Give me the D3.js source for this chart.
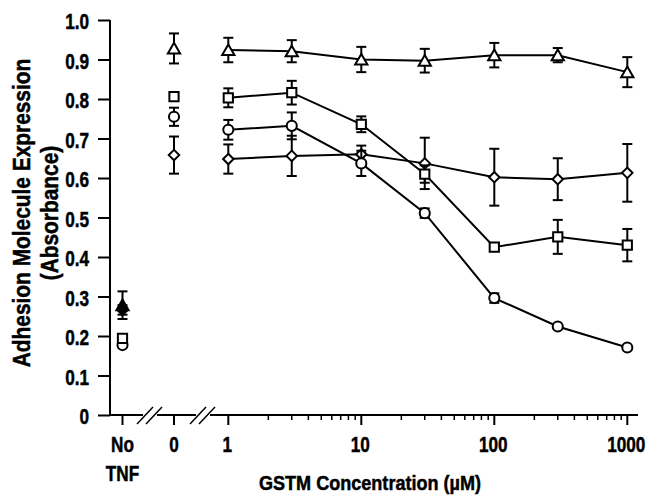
<!DOCTYPE html>
<html>
<head>
<meta charset="utf-8">
<script src="https://cdn.jsdelivr.net/npm/d3@7"></script>
<style>
body { margin: 0; background: #fff; }
text { font-family: "Liberation Sans", Arial, Helvetica, sans-serif; font-weight: bold; stroke: #000; stroke-width: 0.5px; }
</style>
</head>
<body>
<svg id="chart" width="650" height="498"></svg>
<script>
// concentrations (uM) on the log part of the axis
var concs = [1, 3, 10, 30, 100, 300, 1000];
var controls = ["No TNF", "0"];
var yTicks = [0, 0.1, 0.2, 0.3, 0.4, 0.5, 0.6, 0.7, 0.8, 0.9, 1.0];
var xMajor = [1, 10, 100, 1000];

// each series: control values [No TNF, 0], then values at concs, with errors
var triCtrl = [0.278, 0.928], triCtrlErr = [0.035, 0.038];
var triVals = [0.924, 0.921, 0.900, 0.897, 0.911, 0.911, 0.868];
var triErr  = [0.031, 0.028, 0.032, 0.030, 0.031, 0.018, 0.038];

var sqCtrl = [0.194, 0.806], sqCtrlErr = [0.008, 0];
var sqVals = [0.803, 0.816, 0.736, 0.610, 0.425, 0.451, 0.430];
var sqErr  = [0.024, 0.030, 0.020, 0.022, 0.008, 0.043, 0.041];

var cirCtrl = [0.177, 0.755], cirCtrlErr = [0.006, 0.023];
var cirVals = [0.722, 0.732, 0.637, 0.511, 0.296, 0.224, 0.171];
var cirErr  = [0.025, 0.034, 0.032, 0.012, 0.012, 0, 0];

var diaCtrl = [0.266, 0.658], diaCtrlErr = [0.012, 0.047];
var diaVals = [0.648, 0.656, 0.660, 0.637, 0.602, 0.597, 0.613];
var diaErr  = [0.037, 0.051, 0.022, 0.065, 0.072, 0.053, 0.073];

var series = [
	{shape: "diamond", ctrl: diaCtrl, ctrlErr: diaCtrlErr, vals: diaVals, err: diaErr},
	{shape: "circle", ctrl: cirCtrl, ctrlErr: cirCtrlErr, vals: cirVals, err: cirErr},
	{shape: "square", ctrl: sqCtrl, ctrlErr: sqCtrlErr, vals: sqVals, err: sqErr},
	{shape: "triangle", ctrl: triCtrl, ctrlErr: triCtrlErr, vals: triVals, err: triErr}
];

var svg = d3.select("#chart");
var x0 = 110, yBase = 415;
var squeeze = 0.78; // the original uses a condensed face

var y = d3.scaleLinear().domain([0, 1]).range([yBase, 20]);
var x = d3.scaleLog().domain([1, 1000]).range([228.3, 627.3]);
var xc = d3.scalePoint().domain(controls).range([122.5, 174]);

var symbols = {
	diamond: d3.symbol().type(d3.symbolDiamond2).size(70),
	circle: d3.symbol().type(d3.symbolCircle).size(80),
	square: d3.symbol().type(d3.symbolSquare).size(85),
	triangle: d3.symbol().type(d3.symbolTriangle).size(65)
};

function condensed(sel, tx, ty, sx) {
	sel.attr("x", 0).attr("y", 0)
		.attr("transform", "translate(" + tx + "," + ty + ") scale(" + sx + ",1)");
}

// y axis
var yAxis = d3.axisLeft(y)
	.tickValues(yTicks)
	.tickSize(12)
	.tickFormat(function(d) { return d == 0 ? "0" : d3.format(".1f")(d); });
var gy = svg.append("g").attr("transform", "translate(" + x0 + ",0)").call(yAxis);
gy.select(".domain").attr("d", "M0," + y(1) + "V" + yBase).attr("stroke-width", 2);
gy.selectAll(".tick line").attr("stroke-width", 2);
gy.selectAll(".tick text")
	.attr("font-size", 22).attr("fill", "#000").attr("dy", "0.4em")
	.each(function() { condensed(d3.select(this), -21, 0, squeeze); });

// x axis line with breaks
var breaks = [150, 203];
var gx = svg.append("g");
var segs = [[x0, breaks[0] - 7], [breaks[0] + 7, breaks[1] - 7], [breaks[1] + 7, 638]];
gx.selectAll("line.seg").data(segs).enter().append("line")
	.attr("class", "seg")
	.attr("x1", function(d) { return d[0]; })
	.attr("x2", function(d) { return d[1]; })
	.attr("y1", yBase).attr("y2", yBase)
	.attr("stroke", "#000").attr("stroke-width", 2);
breaks.forEach(function(b) {
	[-5, 4].forEach(function(o) {
		gx.append("line")
			.attr("x1", b + o - 8).attr("y1", yBase + 9)
			.attr("x2", b + o + 8).attr("y2", yBase - 8)
			.attr("stroke", "#000").attr("stroke-width", 1.5);
	});
});

// log ticks
var minor = [];
[1, 10, 100].forEach(function(dec) {
	for (var k = 2; k <= 9; k++) minor.push(dec * k);
});
gx.selectAll("line.minor").data(minor).enter().append("line")
	.attr("x1", function(d) { return x(d); }).attr("x2", function(d) { return x(d); })
	.attr("y1", yBase).attr("y2", yBase + 5)
	.attr("stroke", "#000").attr("stroke-width", 1.5);
gx.selectAll("line.major").data(xMajor).enter().append("line")
	.attr("x1", function(d) { return x(d); }).attr("x2", function(d) { return x(d); })
	.attr("y1", yBase).attr("y2", yBase + 10)
	.attr("stroke", "#000").attr("stroke-width", 2);
gx.selectAll("text.major").data(xMajor).enter().append("text")
	.attr("text-anchor", "middle").attr("font-size", 22)
	.text(function(d) { return d; })
	.each(function(d) { condensed(d3.select(this), x(d) - 1, yBase + 37, squeeze); });

// control ticks
gx.selectAll("line.ctrl").data(controls).enter().append("line")
	.attr("x1", function(d) { return xc(d); }).attr("x2", function(d) { return xc(d); })
	.attr("y1", yBase).attr("y2", yBase + 10)
	.attr("stroke", "#000").attr("stroke-width", 2);
gx.selectAll("text.ctrl").data(controls).enter().append("text")
	.attr("text-anchor", "middle").attr("font-size", 22)
	.each(function(d) {
		var t = d3.select(this);
		condensed(t, xc(d), yBase + 37, squeeze);
		d.split(" ").forEach(function(p, i) {
			t.append("tspan").attr("x", 0).attr("dy", i == 0 ? 0 : 29).text(p);
		});
	});

// axis titles
svg.append("text")
	.attr("text-anchor", "middle").attr("font-size", 21)
	.text("GSTM Concentration (\u00b5M)")
	.call(condensed, 370, 490, 0.86);
svg.append("text")
	.attr("text-anchor", "middle").attr("font-size", 24)
	.text("Adhesion Molecule Expression")
	.attr("transform", "translate(30,213) rotate(-90) scale(0.87,1)");
svg.append("text")
	.attr("text-anchor", "middle").attr("font-size", 24)
	.text("(Absorbance)")
	.attr("transform", "translate(58,213) rotate(-90) scale(0.87,1)");

// series
var line = d3.line()
	.x(function(d) { return x(d.c); })
	.y(function(d) { return y(d.v); });

series.forEach(function(s) {
	var pts = concs.map(function(c, i) { return {px: x(c), v: s.vals[i], e: s.err[i]}; });
	var cpts = controls.map(function(c, i) { return {px: xc(c), v: s.ctrl[i], e: s.ctrlErr[i]}; });
	var all = cpts.concat(pts);
	var g = svg.append("g");

	g.append("path")
		.datum(concs.map(function(c, i) { return {c: c, v: s.vals[i]}; }))
		.attr("d", line)
		.attr("fill", "none").attr("stroke", "#000").attr("stroke-width", 2);

	var eb = g.selectAll("g.err").data(all.filter(function(d) { return d.e > 0; })).enter().append("g");
	eb.append("line")
		.attr("x1", function(d) { return d.px; }).attr("x2", function(d) { return d.px; })
		.attr("y1", function(d) { return y(d.v + d.e); }).attr("y2", function(d) { return y(d.v - d.e); })
		.attr("stroke", "#000").attr("stroke-width", 2);
	[1, -1].forEach(function(sgn) {
		eb.append("line")
			.attr("x1", function(d) { return d.px - 5; }).attr("x2", function(d) { return d.px + 5; })
			.attr("y1", function(d) { return y(d.v + sgn * d.e); }).attr("y2", function(d) { return y(d.v + sgn * d.e); })
			.attr("stroke", "#000").attr("stroke-width", 2);
	});

	g.selectAll("path.mark").data(all).enter().append("path")
		.attr("class", "mark")
		.attr("transform", function(d) {
			var dy = s.shape == "triangle" ? 1.5 : 0;
			return "translate(" + d.px + "," + (y(d.v) + dy) + ")";
		})
		.attr("d", symbols[s.shape])
		.attr("fill", function(d, i) { return (i == 0 && (s.shape == "triangle" || s.shape == "diamond")) ? "#000" : "#fff"; })
		.attr("stroke", "#000").attr("stroke-width", 2);
});
</script>
</body>
</html>
